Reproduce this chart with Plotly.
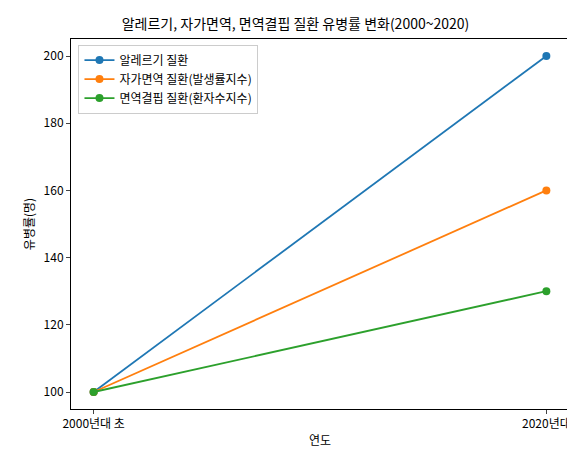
import plotly.graph_objects as go

years = ["2000년대 초", "2020년대"]
series_names = ["알레르기 질환", "자가면역 질환(발생률지수)", "면역결핍 질환(환자수지수)"]
allergy = [100, 200]
autoimmune = [100, 160]
immunodef = [100, 130]
colors = ["#1f77b4", "#ff7f0e", "#2ca02c"]

fig = go.Figure()
for name, vals, c in zip(series_names, [allergy, autoimmune, immunodef], colors):
    fig.add_trace(go.Scatter(x=[0, 1], y=vals, mode="lines+markers", name=name,
                             line=dict(color=c, width=1.8), marker=dict(size=8, color=c)))

font = "Noto Sans CJK KR"
fig.update_layout(
    width=575, height=454, template="none",
    paper_bgcolor="white", plot_bgcolor="white",
    font=dict(family=font, size=12, color="black"),
    margin=dict(l=63, r=14, t=31, b=53, autoexpand=False),
    title=dict(text="알레르기, 자가면역, 면역결핍 질환 유병률 변화(2000~2020)", x=0.5, xanchor="center",
               y=1 - 16/454, yanchor="middle", font=dict(size=14)),
    xaxis=dict(range=[-0.05, 1.05], tickvals=[0, 1], ticktext=years, showgrid=False, zeroline=False,
               showline=True, mirror=True, linecolor="black", ticks="outside", ticklen=4, automargin=False,
               title=dict(text="연도", standoff=6, font=dict(size=12))),
    yaxis=dict(range=[94.94, 205.06], tickvals=[100, 120, 140, 160, 180, 200], showgrid=False, zeroline=False,
               showline=True, mirror=True, linecolor="black", ticks="outside", ticklen=4, automargin=False,
               title=dict(text="유병률(명)", standoff=6, font=dict(size=12))),
    legend=dict(x=0.015, y=0.985, xanchor="left", yanchor="top", bgcolor="rgba(255,255,255,0.8)",
                bordercolor="#cccccc", borderwidth=1, font=dict(size=12)),
)
fig.write_html("out.html")
